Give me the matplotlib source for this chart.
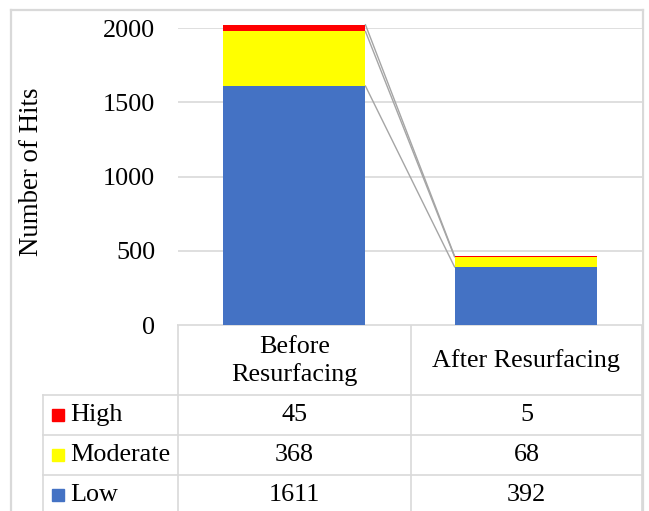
import matplotlib
matplotlib.use("Agg")
import matplotlib.pyplot as plt
from matplotlib.lines import Line2D
from matplotlib.patches import Rectangle

# ── data ───────────────────────────────────────────────────────────────────────
categories = ["Before\nResurfacing", "After Resurfacing"]
series     = ["High", "Moderate", "Low"]          # table order (top to bottom)
low        = [1611, 392]
moderate   = [368, 68]
high       = [45, 5]
yticks     = [0, 500, 1000, 1500, 2000]

BLUE   = "#4472C4"
YELLOW = "#FFFF00"
RED    = "#FF0000"
GRID   = "#D9D9D9"
LINE   = "#A5A5A5"
FONT   = "Liberation Serif"
FS     = 18.8

W, H = 649, 511
fig = plt.figure(figsize=(W / 100, H / 100), dpi=100)
plt.rcParams["font.family"] = FONT

# pixel layout
PL, PR, PT, PB = 178, 642, 28.3, 325   # plot area (y=2000 at PT, y=0 at PB)

def px(x0, y0, x1, y1):
    return [x0 / W, 1 - y1 / H, (x1 - x0) / W, (y1 - y0) / H]

ax = fig.add_axes(px(PL, PT, PR, PB))
x = [0, 1]
bw = 0.616
ax.bar(x, low, bw, color=BLUE, zorder=3, clip_on=False)
bot2 = [l + m for l, m in zip(low, moderate)]
ax.bar(x, moderate, bw, bottom=low, color=YELLOW, zorder=3, clip_on=False)
ax.bar(x, high, bw, bottom=bot2, color=RED, zorder=3, clip_on=False)

# series lines between stacks
tops = [low, bot2, [b + h for b, h in zip(bot2, high)]]
for t in tops:
    ax.plot([x[0] + bw / 2, x[1] - bw / 2], t, color=LINE, lw=1.0,
            zorder=2, clip_on=False)

ax.set_xlim(-0.5, 1.5)
ax.set_ylim(0, 2000)
ax.set_yticks(yticks)
ax.set_yticklabels([str(v) for v in yticks], fontsize=FS, family=FONT)
ax.tick_params(axis="y", length=0, pad=16.5)
ax.set_xticks([])
for s in ax.spines.values():
    s.set_visible(False)
ax.grid(axis="y", color=GRID, lw=1.2, zorder=0)
ax.set_axisbelow(True)

fig.text(32 / W, 1 - 172 / H, "Number of Hits", rotation=90, ha="center",
         va="center", fontsize=FS + 0.6, family=FONT)

# ── data table (pixel coords) ──
tab = fig.add_axes([0, 0, 1, 1], zorder=-1)
tab.set_xlim(0, W)
tab.set_ylim(H, 0)
tab.axis("off")

col_x = [178, 411, 642]
row_y = [325, 395, 435, 475, 515]
legend_x = 43
kw = dict(color=GRID, lw=1.2)

tab.plot([col_x[0], col_x[-1]], [row_y[0]] * 2, **kw)
for y in row_y[1:]:
    tab.plot([legend_x, col_x[-1]], [y, y], **kw)
for cx in col_x:
    tab.plot([cx, cx], [row_y[0], H + 10], **kw)
tab.plot([legend_x, legend_x], [row_y[1], H + 10], **kw)

centers = [(col_x[i] + col_x[i + 1]) / 2 for i in range(len(categories))]
for cx, cat in zip(centers, categories):
    tab.text(cx, (row_y[0] + row_y[1]) / 2 + 1, cat, ha="center", va="center",
             fontsize=FS, family=FONT, linespacing=1.3)

values  = {"High": high, "Moderate": moderate, "Low": low}
colours = {"High": RED, "Moderate": YELLOW, "Low": BLUE}
for i, name in enumerate(series):
    yc = (row_y[i + 1] + row_y[i + 2]) / 2
    tab.add_patch(Rectangle((52, yc - 6), 12, 12, color=colours[name]))
    tab.text(70, yc, name, ha="left", va="center", fontsize=FS, family=FONT)
    for cx, v in zip(centers, values[name]):
        tab.text(cx, yc, str(v), ha="center", va="center",
                 fontsize=FS, family=FONT)

# outer chart border
for seg in ([11, 11], [10, H + 10]), ([643, 643], [10, H + 10]), ([11, 643], [10, 10]):
    tab.add_line(Line2D(*seg, color=GRID, lw=1.6))

fig.savefig("out.png", dpi=100, facecolor="white")
